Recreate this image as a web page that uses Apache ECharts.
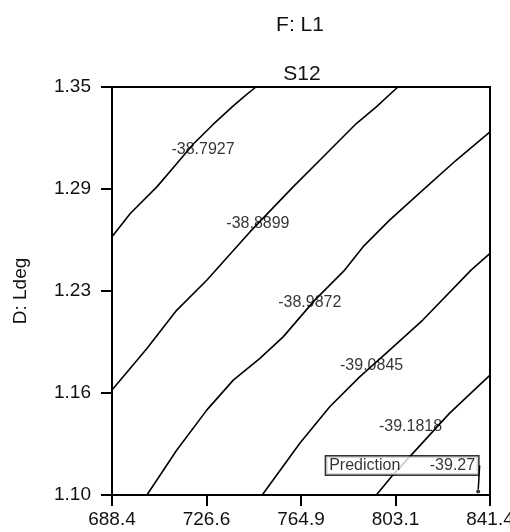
<!DOCTYPE html>
<html>
<head>
<meta charset="utf-8">
<style>
  html, body { margin: 0; padding: 0; background: #fff; }
  #chart { width: 510px; height: 532px; }
</style>
<script src="https://cdn.jsdelivr.net/npm/echarts@6/dist/echarts.min.js"></script>
</head>
<body>
<div id="chart"></div>
<script>
// Axis ranges and tick marks
const xRange = [688.4, 841.4];
const yRange = [1.10, 1.35];
const xTickValues = [688.4, 726.65, 764.9, 803.15, 841.4];
const xTickLabels = ['688.4', '726.6', '764.9', '803.1', '841.4'];
const yTickValues = [1.10, 1.1625, 1.225, 1.2875, 1.35];
const yTickLabels = ['1.10', '1.16', '1.23', '1.29', '1.35'];

// Contour levels of S12 and their traced paths [F, Ldeg]
const contourLevels = ['-38.7927', '-38.8899', '-38.9872', '-39.0845', '-39.1818'];
const contour1 = [[688.4, 1.2582], [695.79, 1.2725], [706.57, 1.2888], [714.64, 1.3031], [721.22, 1.3149], [729.42, 1.3272], [737.49, 1.3384], [742.21, 1.3445], [746.65, 1.35]];
const contour2 = [[688.4, 1.1643], [702.53, 1.1898], [714.64, 1.2133], [726.75, 1.2316], [744.23, 1.2612], [761.71, 1.2888], [772.49, 1.3051], [787.31, 1.3276], [795.38, 1.3378], [804.10, 1.35]];
const contour3 = [[702.53, 1.10], [714.64, 1.1276], [726.75, 1.1520], [737.49, 1.1704], [748.27, 1.1837], [757.67, 1.1969], [770.47, 1.2194], [782.58, 1.2378], [789.97, 1.2520], [800.75, 1.2684], [814.19, 1.2868], [827.68, 1.3051], [841.4, 1.3225]];
const contour4 = [[749.20, 1.10], [764.42, 1.1317], [776.53, 1.1541], [788.64, 1.1724], [800.75, 1.1888], [814.19, 1.2072], [833.73, 1.2378], [841.4, 1.2480]];
const contour5 = [[795.38, 1.10], [802.08, 1.1122], [810.15, 1.1255], [824.97, 1.1500], [841.4, 1.1735]];
const contourPaths = [contour1, contour2, contour3, contour4, contour5];

// Where each level's value is written
const contourLabelX = [725.26, 747.46, 768.45, 793.48, 809.23];
const contourLabelY = [1.3119, 1.2665, 1.2176, 1.1790, 1.1422];

// Prediction point
const predictionPoint = [836.6, 1.1022];
const predictionValue = '-39.27';

const FONT = 'Liberation Sans, Arial, sans-serif';

function tickText(values, labels) {
  return function (v) {
    const i = values.findIndex(t => Math.abs(t - v) < 1e-6);
    return i >= 0 ? labels[i] : '';
  };
}

const chart = echarts.init(document.getElementById('chart'), null, { renderer: 'canvas' });

const lineSeries = contourPaths.map((path, i) => ({
  name: contourLevels[i],
  type: 'line',
  data: path,
  showSymbol: false,
  symbol: 'none',
  smooth: false,
  silent: true,
  lineStyle: { color: '#000', width: 1.6 },
  z: 2
}));

const option = {
  animation: false,
  backgroundColor: '#fff',
  textStyle: { fontFamily: FONT },
  title: [
    { text: 'F: L1', left: 295, top: 10, textAlign: 'center',
      textStyle: { fontSize: 21, fontWeight: 'normal', color: '#111', fontFamily: FONT } },
    { text: 'S12', left: 297, top: 59, textAlign: 'center',
      textStyle: { fontSize: 21, fontWeight: 'normal', color: '#111', fontFamily: FONT } }
  ],
  grid: {
    left: 112, right: 20, top: 87, bottom: 37,
    outerBoundsMode: 'none',
    show: true, borderColor: '#000', borderWidth: 2, backgroundColor: 'transparent'
  },
  xAxis: {
    type: 'value',
    min: xRange[0], max: xRange[1],
    axisLine: { show: true, onZero: false, lineStyle: { color: '#000', width: 2 } },
    axisTick: { show: true, customValues: xTickValues, length: 11, lineStyle: { color: '#000', width: 2 } },
    axisLabel: { customValues: xTickValues, formatter: tickText(xTickValues, xTickLabels),
      fontSize: 19, margin: 15, color: '#111' },
    splitLine: { show: false }
  },
  yAxis: {
    type: 'value',
    min: yRange[0], max: yRange[1],
    name: 'D: Ldeg',
    nameLocation: 'middle',
    nameGap: 82,
    nameTextStyle: { fontSize: 19, color: '#111' },
    axisLine: { show: true, onZero: false, lineStyle: { color: '#000', width: 2 } },
    axisTick: { show: true, customValues: yTickValues, length: 11, lineStyle: { color: '#000', width: 2 } },
    axisLabel: { customValues: yTickValues, formatter: tickText(yTickValues, yTickLabels),
      fontSize: 19, margin: 21, color: '#111' },
    splitLine: { show: false }
  },
  series: lineSeries.concat([
    {
      name: 'levels',
      type: 'scatter',
      silent: true,
      symbolSize: 0,
      data: contourLabelX.map((x, i) => ({ value: [x, contourLabelY[i]], name: contourLevels[i] })),
      label: {
        show: true, position: 'inside', formatter: p => p.name,
        fontSize: 16, color: '#000'
      },
      z: 3
    },
    {
      name: 'Prediction',
      type: 'scatter',
      silent: true,
      symbol: 'circle',
      symbolSize: 4,
      itemStyle: { color: '#000' },
      data: [predictionPoint],
      label: {
        show: true,
        position: 'top',
        distance: 0,
        align: 'right',
        verticalAlign: 'bottom',
        padding: [1, 3, 0, 3],
        backgroundColor: '#fff',
        borderColor: '#000',
        borderWidth: 1.5,
        formatter: '{a|Prediction}{b|' + predictionValue + '}',
        rich: {
          a: { fontSize: 16, color: '#000', lineHeight: 17, width: 94, align: 'left' },
          b: { fontSize: 16, color: '#000', lineHeight: 17, width: 52, align: 'right' }
        }
      },
      labelLayout: { dy: -15 },
      labelLine: { show: true, lineStyle: { color: '#000', width: 1.5 } },
      z: 5
    }
  ])
};

chart.setOption(option);
</script>
</body>
</html>
